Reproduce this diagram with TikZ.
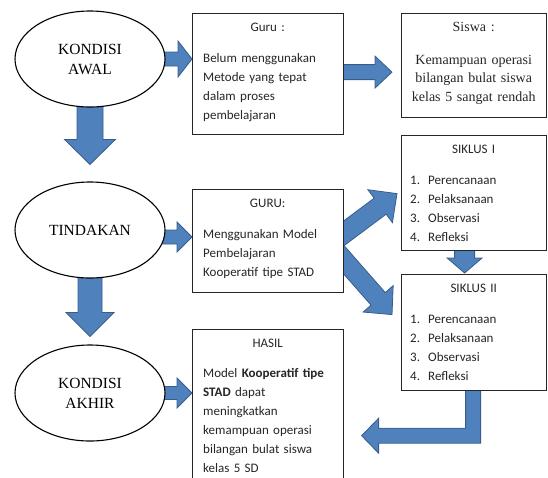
\documentclass[tikz,border=0pt]{standalone}
\usepackage{fontspec}
\setmainfont{Liberation Serif}
\newfontfamily\calibri{Carlito}
\usetikzlibrary{shapes.geometric,calc,positioning,backgrounds}

\definecolor{biru}{RGB}{79,129,189}
\definecolor{birutepi}{RGB}{56,93,138}

% panah blok: dari, ke, setengah lebar batang, setengah lebar kepala, panjang kepala
\newcommand{\blokpanah}[5]{%
  \coordinate (kp) at ($(#2)!#5!(#1)$);
  \draw[blok] ($(#1)!#3!90:(#2)$) -- ($(kp)!#3!90:(#2)$) -- ($(kp)!#4!90:(#2)$) -- (#2)
    -- ($(kp)!#4!-90:(#2)$) -- ($(kp)!#3!-90:(#2)$) -- ($(#1)!#3!-90:(#2)$) -- cycle;}

\begin{document}
\begin{tikzpicture}[x=1pt,y=-1pt,
  oval/.style={ellipse,draw,fill=white,line width=1.1pt,minimum width=150pt,minimum height=96pt,inner sep=0pt,align=center,font=\fontsize{15.5}{20}\selectfont},
  kotak/.style={draw=black!85,fill=white,line width=1.2pt,anchor=north west,inner sep=0pt},
  isi/.style={anchor=north west,inner sep=0pt,align=left,text=black!85,font=\calibri\fontsize{13}{19}\selectfont},
  isiserif/.style={anchor=north west,inner sep=0pt,align=center,text=black!85,font=\fontsize{14}{18.5}\selectfont},
  blok/.style={fill=biru,draw=birutepi,line width=0.8pt}]
 \def\langkah{\makebox[18pt][l]{1.}Perencanaan\\\makebox[18pt][l]{2.}Pelaksanaan\\\makebox[18pt][l]{3.}Observasi\\\makebox[18pt][l]{4.}Refleksi}
 \useasboundingbox (0,0) rectangle (548,477);
 \clip (0,0) rectangle (548,477);

 \node[oval] (awal) at (90,59) {KONDISI\\AWAL};
 \node[oval] (tindakan) at (90,230) {TINDAKAN};
 \node[oval] (akhir) at (90,393) {KONDISI\\AKHIR};

 \node[kotak,minimum width=151pt,minimum height=121pt] (guru) at (192,13) {};
 \node[kotak,minimum width=145pt,minimum height=104pt] (siswa) at (401,13) {};
 \node[kotak,minimum width=145pt,minimum height=115pt] (siklus1) at (401,135) {};
 \node[kotak,minimum width=145pt,minimum height=116pt] (siklus2) at (401,274) {};
 \node[kotak,minimum width=151pt,minimum height=103pt] (guru2) at (192,189) {};
 \node[kotak,minimum width=151pt,minimum height=170pt] (hasil) at (192,329) {};

 \node[isi,text width=129pt] (tguru) at ([xshift=11pt,yshift=-10pt]guru.north west)
  {{\centering Guru :\par}\vspace{12pt}Belum menggunakan\\Metode yang tepat\\dalam proses\\pembelajaran};
 \node[isiserif,text width=135pt] (tsiswa) at ([xshift=5pt,yshift=-9.5pt]siswa.north west)
  {Siswa :\par\vspace{14pt}Kemampuan operasi\\bilangan bulat siswa\\kelas 5 sangat rendah};
 \node[isi,text width=127pt] (tsiklus1) at ([xshift=9pt,yshift=-10pt]siklus1.north west)
  {{\centering SIKLUS I\par}\vspace{12pt}\langkah};
 \node[isi,text width=127pt] (tsiklus2) at ([xshift=9pt,yshift=-10pt]siklus2.north west)
  {{\centering SIKLUS II\par}\vspace{12pt}\langkah};
 \node[isi,text width=129pt] (tguru2) at ([xshift=11pt,yshift=-10pt]guru2.north west)
  {{\centering GURU:\par}\vspace{12pt}Menggunakan Model\\Pembelajaran\\Kooperatif tipe STAD};
 \node[isi,text width=129pt] (thasil) at ([xshift=11pt,yshift=-10pt]hasil.north west)
  {{\centering HASIL\par}\vspace{11pt}Model \textbf{Kooperatif tipe}\\\textbf{STAD} dapat\\meningkatkan\\kemampuan operasi\\bilangan bulat siswa\\kelas 5 SD};

 \coordinate (u1) at (awal.center -| guru.west);
 \coordinate (u2a) at ($(guru.center)+(0,-2)$);
 \coordinate (u2) at ($(u2a -| siswa.west)+(-9,0)$);
 \coordinate (u3) at ($(tindakan.north)+(0,-17)$);
 \coordinate (u4a) at ($(tindakan.center)+(0,7)$);
 \coordinate (u4) at (u4a -| guru2.west);
 \coordinate (u5) at ($(akhir.north)+(0,-8)$);
 \coordinate (u6) at (akhir.center -| hasil.west);
 \coordinate (u7a) at ($(guru2.east)+(-33,16.5)$);
 \coordinate (u7) at ($(siklus1.west)+(-4,0.5)$);
 \coordinate (u8a) at ($(guru2.east)+(-33,-18.5)$);
 \coordinate (u8) at ($(siklus2.west)+(-9,-18)$);
 \coordinate (u9a) at ($(siklus1.south)+(-9.5,-10)$);
 \coordinate (u9) at ($(siklus2.north)+(-9.5,-1)$);

 \begin{scope}[on background layer]
  \blokpanah{awal.center}{u1}{7pt}{18pt}{14pt}
  \blokpanah{u2a}{u2}{7.5pt}{16pt}{17pt}
  \blokpanah{awal.center}{u3}{13pt}{25.5pt}{25pt}
  \blokpanah{u4a}{u4}{7pt}{15pt}{15pt}
  \blokpanah{tindakan.center}{u5}{12pt}{24pt}{24pt}
  \blokpanah{akhir.center}{u6}{6.5pt}{15pt}{15pt}
  \blokpanah{u7a}{u7}{10pt}{20.5pt}{21pt}
  \blokpanah{u8a}{u8}{9.5pt}{20pt}{21pt}
  \blokpanah{u9a}{u9}{10pt}{17.5pt}{15pt}
  \draw[blok] ($(siklus2.south)+(-8.5,-5)$) -- ++(15,0) -- ++(0,57) -- ++(-102,0) -- ++(0,10)
    -- ++(-17,-17.5) -- ++(17,-17.5) -- ++(0,10) -- ++(87,0) -- cycle;
 \end{scope}
\end{tikzpicture}
\end{document}
